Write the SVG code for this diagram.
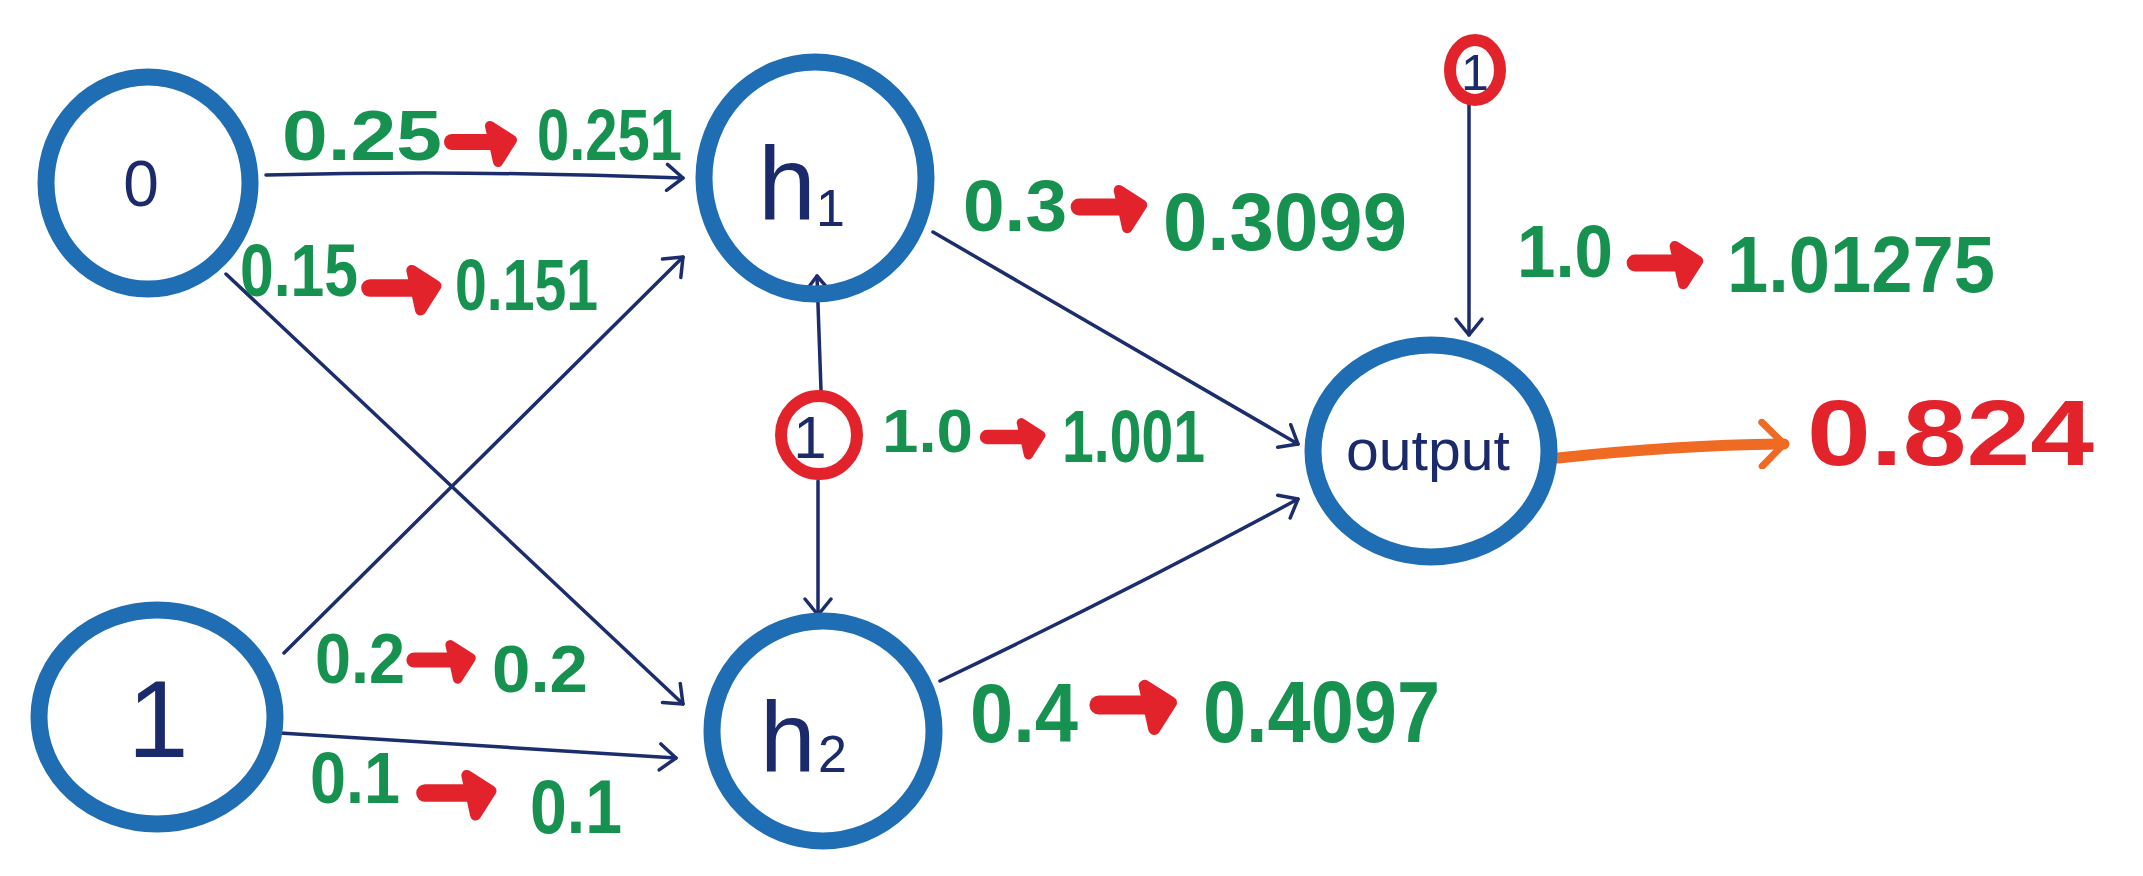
<svg xmlns="http://www.w3.org/2000/svg" width="2143" height="876" viewBox="0 0 2143 876">
<style>
.node{fill:none;stroke:#1f6db3;stroke-width:17}
.bias{fill:none;stroke:#e2232b;stroke-width:12}
.nlab{font-family:"Liberation Sans",Arial,sans-serif;fill:#1b2a6b;font-weight:normal}
.g{font-family:"Liberation Sans",Arial,sans-serif;font-weight:bold;fill:#17914f}
.r{font-family:"Liberation Sans",Arial,sans-serif;font-weight:bold;fill:#e2232b}
.edge{fill:none;stroke:#1c2d6e;stroke-width:3.5;stroke-linecap:round}
.out{fill:none;stroke:#ef6a22;stroke-width:11;stroke-linecap:round}
</style>
<defs>
<marker id="ah" viewBox="0 0 20 30" refX="18" refY="15" markerWidth="20" markerHeight="30" markerUnits="userSpaceOnUse" orient="auto">
<path d="M2,2 L18,15 L2,28" fill="none" stroke="#1c2d6e" stroke-width="3.5" stroke-linecap="round" stroke-linejoin="round"/>
</marker>
<marker id="ahO" viewBox="0 0 30 50" refX="26" refY="25" markerWidth="30" markerHeight="50" markerUnits="userSpaceOnUse" orient="auto">
<path d="M4,3 L26,25 L4,47" fill="none" stroke="#ef6a22" stroke-width="7" stroke-linecap="round" stroke-linejoin="round"/>
</marker>
<g id="ra">
<path d="M0,0 H40" stroke="#e2232b" stroke-width="16" stroke-linecap="round" fill="none"/>
<path d="M38,-16 L60,-2 L46,20 Z" fill="#e2232b" stroke="#e2232b" stroke-width="10" stroke-linejoin="round"/>
</g>
</defs>

<g id="connectors">
<path class="edge" d="M266,175 Q470,170 683,178" marker-end="url(#ah)"/>
<path class="edge" d="M284,653 L683,257" marker-end="url(#ah)"/>
<path class="edge" d="M226,274 L683,704" marker-end="url(#ah)"/>
<path class="edge" d="M280,733 Q480,745 676,758" marker-end="url(#ah)"/>
<path class="edge" d="M821,390 L817,276" marker-end="url(#ah)"/>
<path class="edge" d="M818,481 L818,615" marker-end="url(#ah)"/>
<path class="edge" d="M933,232 L1298,444" marker-end="url(#ah)"/>
<path class="edge" d="M940,681 Q1130,590 1298,499" marker-end="url(#ah)"/>
<path class="edge" d="M1469,103 L1469,335" marker-end="url(#ah)"/>
<path class="out" d="M1558,458 Q1680,445 1784,444" marker-end="url(#ahO)"/>
</g>

<g id="node-x0">
<ellipse class="node" cx="148" cy="183" rx="102" ry="106"/>
<text class="nlab" x="141" y="206" font-size="64" text-anchor="middle">0</text>
</g>
<g id="node-x1">
<ellipse class="node" cx="157" cy="717" rx="118" ry="107"/>
<text class="nlab" x="158" y="757" font-size="110" text-anchor="middle">1</text>
</g>
<g id="node-h1">
<ellipse class="node" cx="815" cy="178" rx="111" ry="116"/>
<text class="nlab" x="758" y="219" font-size="104">h</text>
<text class="nlab" x="816" y="226" font-size="52">1</text>
</g>
<g id="node-h2">
<ellipse class="node" cx="823" cy="731" rx="111" ry="110"/>
<text class="nlab" x="760" y="772" font-size="100">h</text>
<text class="nlab" x="818" y="772" font-size="52">2</text>
</g>
<g id="node-output">
<ellipse class="node" cx="1431" cy="451" rx="118" ry="106"/>
<text class="nlab" x="1346" y="470" font-size="58" textLength="164" lengthAdjust="spacingAndGlyphs">output</text>
</g>
<g id="node-bias-out">
<ellipse class="bias" cx="1475" cy="70" rx="25" ry="30"/>
<text class="nlab" x="1475" y="90" font-size="50" text-anchor="middle">1</text>
</g>
<g id="node-bias-hidden">
<ellipse class="bias" cx="819" cy="435" rx="38" ry="39"/>
<text class="nlab" x="810" y="458" font-size="60" text-anchor="middle">1</text>
</g>

<g id="labels">
<text class="g" x="282" y="160" font-size="70" textLength="160" lengthAdjust="spacingAndGlyphs">0.25</text>
<use href="#ra" transform="translate(452 142)"/>
<text class="g" x="537" y="160" font-size="72" textLength="145" lengthAdjust="spacingAndGlyphs">0.251</text>

<text class="g" x="240" y="296" font-size="74" textLength="118" lengthAdjust="spacingAndGlyphs">0.15</text>
<use href="#ra" transform="translate(370 288) scale(1.1)"/>
<text class="g" x="455" y="310" font-size="72" textLength="143" lengthAdjust="spacingAndGlyphs">0.151</text>

<text class="g" x="963" y="231" font-size="72" textLength="104" lengthAdjust="spacingAndGlyphs">0.3</text>
<use href="#ra" transform="translate(1079 207) scale(1.05)"/>
<text class="g" x="1163" y="250" font-size="82" textLength="244" lengthAdjust="spacingAndGlyphs">0.3099</text>

<text class="g" x="1517" y="277" font-size="75" textLength="96" lengthAdjust="spacingAndGlyphs">1.0</text>
<use href="#ra" transform="translate(1635 263) scale(1.05)"/>
<text class="g" x="1727" y="292" font-size="80" textLength="268" lengthAdjust="spacingAndGlyphs">1.01275</text>

<text class="g" x="882" y="452" font-size="62" textLength="91" lengthAdjust="spacingAndGlyphs">1.0</text>
<use href="#ra" transform="translate(987 437) scale(0.9)"/>
<text class="g" x="1062" y="462" font-size="74" textLength="143" lengthAdjust="spacingAndGlyphs">1.001</text>

<text class="r" x="1807" y="465" font-size="92" textLength="287" lengthAdjust="spacingAndGlyphs">0.824</text>

<text class="g" x="315" y="683" font-size="70" textLength="90" lengthAdjust="spacingAndGlyphs">0.2</text>
<use href="#ra" transform="translate(414 660) scale(0.95)"/>
<text class="g" x="492" y="692" font-size="66" textLength="96" lengthAdjust="spacingAndGlyphs">0.2</text>

<text class="g" x="310" y="803" font-size="72" textLength="90" lengthAdjust="spacingAndGlyphs">0.1</text>
<use href="#ra" transform="translate(425 793) scale(1.1)"/>
<text class="g" x="530" y="833" font-size="76" textLength="92" lengthAdjust="spacingAndGlyphs">0.1</text>

<text class="g" x="970" y="742" font-size="84" textLength="108" lengthAdjust="spacingAndGlyphs">0.4</text>
<use href="#ra" transform="translate(1099 705) scale(1.2)"/>
<text class="g" x="1203" y="742" font-size="88" textLength="237" lengthAdjust="spacingAndGlyphs">0.4097</text>
</g>
</svg>
